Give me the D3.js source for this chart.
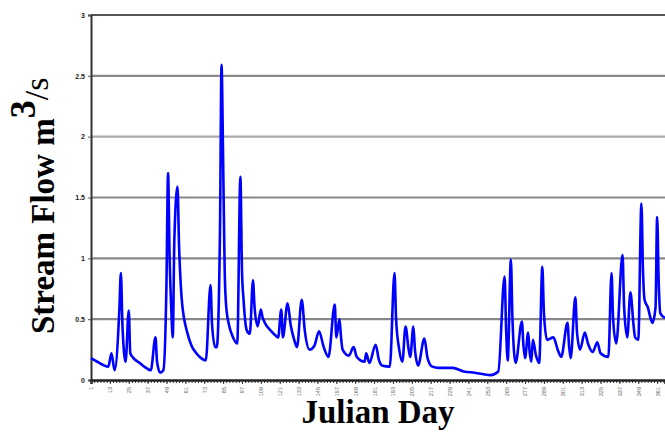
<!DOCTYPE html>
<html><head><meta charset="utf-8">
<script src="https://cdn.jsdelivr.net/npm/d3@7"></script>
<style>html,body{margin:0;padding:0;background:#fff;}svg{display:block;}</style>
</head><body>
<svg id="c" width="665" height="433"></svg>
<script>
const days = [1,5,12,14,16,19,20,21,23,25,26,28,32,36,39,42,43,45,47,49,50,51,52,53,54,56,57,58,59,60,62,65,68,71,74,77,78,80,81,83,84,85,86,87,89,91,94,96,97,98,100,102,104,105,107,109,110,112,115,118,120,122,123,126,128,130,132,135,137,140,143,146,149,152,156,157,159,160,161,165,168,170,175,176,178,182,184,186,191,194,195,197,199,201,203,204,206,207,209,213,215,218,222,231,238,245,255,260,264,265,266,268,269,271,275,276,277,279,280,281,282,284,286,288,289,291,295,298,300,304,305,306,309,310,312,315,317,320,323,325,330,332,333,335,339,340,342,344,346,347,349,351,352,353,355,358,360,361,362,363,366];
const flow = [0.18,0.15,0.11,0.22,0.08,0.57,0.88,0.45,0.15,0.57,0.22,0.18,0.14,0.1,0.08,0.35,0.15,0.06,0.08,0.8,1.70,1.0,0.6,0.35,1.15,1.59,1.1,0.8,0.62,0.52,0.4,0.28,0.22,0.18,0.16,0.78,0.45,0.27,0.27,1.2,2.59,1.83,0.9,0.6,0.44,0.36,0.30,1.67,0.9,0.66,0.41,0.38,0.82,0.6,0.44,0.58,0.52,0.46,0.41,0.37,0.35,0.58,0.35,0.63,0.45,0.34,0.27,0.66,0.4,0.25,0.28,0.40,0.27,0.19,0.62,0.35,0.5,0.35,0.25,0.2,0.27,0.19,0.15,0.22,0.14,0.29,0.17,0.12,0.11,0.88,0.5,0.25,0.15,0.44,0.25,0.19,0.44,0.25,0.12,0.34,0.18,0.11,0.1,0.10,0.07,0.06,0.04,0.07,0.85,0.4,0.16,0.99,0.5,0.14,0.48,0.28,0.18,0.39,0.22,0.15,0.33,0.2,0.14,0.93,0.55,0.33,0.35,0.24,0.19,0.47,0.28,0.18,0.68,0.4,0.25,0.39,0.3,0.23,0.31,0.22,0.19,0.88,0.5,0.30,1.03,0.6,0.35,0.72,0.45,0.35,0.33,1.45,0.9,0.66,0.6,0.47,0.6,1.34,0.8,0.55,0.51];
const yTicks = [0,0.5,1,1.5,2,2.5,3];
const yTickLabels = ["0","0.5","1","1.5","2","2.5","3"];
const xTickDays = d3.range(1, 366, 12);

const svg = d3.select("#c");
const L = 91, R = 665, T = 15, B = 380;
const x = d3.scaleLinear().domain([1,366]).range([L,R]);
const y = d3.scaleLinear().domain([0,3]).range([B,T]);

// gridlines
svg.append("g").selectAll("line").data(yTicks.filter(d=>d>0)).join("line")
  .attr("x1",L).attr("x2",R).attr("y1",d=>y(d)).attr("y2",d=>y(d))
  .attr("stroke",d=> (d===3? "#555" : (d===2? "#aaa" : "#888")))
  .attr("stroke-width",2.2);

// y axis
const ya = d3.axisLeft(y).tickValues(yTicks).tickFormat((d,i)=>yTickLabels[i]).tickSize(3).tickPadding(3);
const gy = svg.append("g").attr("transform",`translate(${L},0)`).call(ya);
gy.select(".domain").attr("stroke","#333").attr("stroke-width",2);
gy.selectAll(".tick line").attr("stroke","#555");
gy.selectAll("text").attr("font-family","Liberation Sans, Arial, sans-serif").attr("font-size",7).attr("font-weight","bold").attr("fill","#222");

// x axis minor ticks
const xm = d3.axisBottom(x).tickValues(d3.range(1,366,2)).tickSize(3).tickFormat("");
const gxm = svg.append("g").attr("transform",`translate(0,${B})`).call(xm);
gxm.select(".domain").remove();
gxm.selectAll(".tick line").attr("stroke","#333").attr("stroke-width",1);

// x axis
const xa = d3.axisBottom(x).tickValues(xTickDays).tickSize(4).tickFormat(d=>d);
const gx = svg.append("g").attr("transform",`translate(0,${B})`).call(xa);
gx.select(".domain").attr("stroke","#222").attr("stroke-width",2.5);
gx.selectAll(".tick line").attr("stroke","#333");
gx.selectAll("text")
  .attr("font-family","Liberation Sans, Arial, sans-serif").attr("font-size",5.5).attr("fill","#666")
  .attr("transform","rotate(-90)").attr("text-anchor","end").attr("dy","0.35em")
  .attr("x",-7).attr("y",0);

// data line
const line = d3.line().x((d,i)=>x(days[i])).y(d=>y(d)).curve(d3.curveMonotoneX);
svg.append("path").datum(flow).attr("d",line)
  .attr("fill","none").attr("stroke","#0000ff").attr("stroke-width",2.6).attr("stroke-linejoin","round");

// titles
svg.append("text").attr("x",378).attr("y",423).attr("text-anchor","middle")
  .attr("font-family","Liberation Serif, Times New Roman, serif").attr("font-weight","bold").attr("font-size",33)
  .text("Julian Day");

const yt = svg.append("text").attr("transform","translate(54,334) rotate(-90)")
  .attr("font-family","Liberation Serif, Times New Roman, serif").attr("font-weight","bold").attr("font-size",33);
yt.append("tspan").text("Stream Flow m");
yt.append("tspan").attr("dy",-19).attr("font-size",36).text("3");
yt.append("tspan").attr("dy",13).attr("font-size",34).attr("font-weight","normal").text("/s");
</script>
</body></html>
